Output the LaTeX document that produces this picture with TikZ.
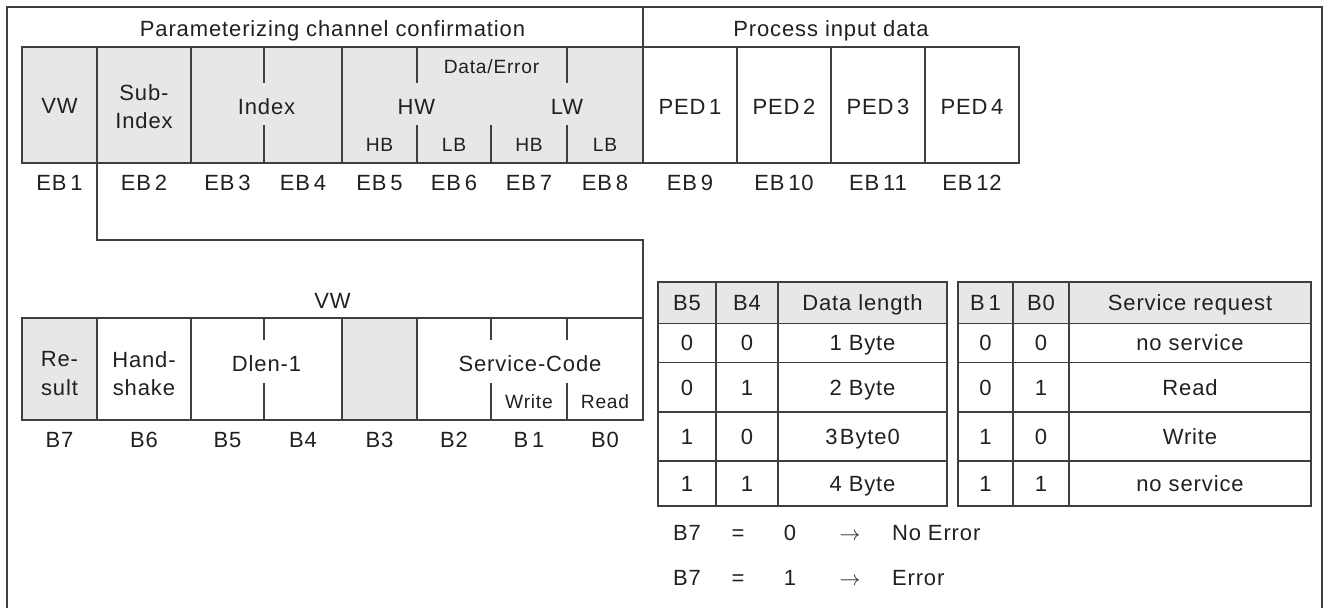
\documentclass[tikz,border=0pt]{standalone}
\usepackage{fontspec}
\setmainfont{Liberation Sans}[LetterSpace=4]
\newcommand\fnorm{\fontsize{22}{28.5}\selectfont}
\newcommand\fsmall{\fontsize{19.2}{22}\selectfont}
\definecolor{linec}{HTML}{3F3F3F}
\definecolor{cellgray}{HTML}{E6E7E8}
\definecolor{txt}{HTML}{231F20}
\tikzset{
  lbl/.style={inner sep=0pt, outer sep=0pt, font=\fnorm, text=txt, align=center},
  one/.style={lbl, text height=15.7pt, text depth=0pt},
  sm/.style={lbl, font=\fsmall, text height=13.7pt, text depth=0pt},
  ln/.style={draw=linec, line width=1.3pt},
  cb/.style 2 args={ln, rectangle, inner sep=0pt, outer sep=0pt,
     minimum width=#1pt, minimum height=#2pt},
  gcell/.style={fill=cellgray},
}
\begin{document}
\begin{tikzpicture}[x=1pt,y=-1pt]
\useasboundingbox (0,0) rectangle (1327,608);
% outer frame (open at the bottom)
\coordinate (fBL) at (7,608);
\coordinate (fTL) at (7,7);
\coordinate (fTR) at (1322,7);
\coordinate (fBR) at (1322,608);
\draw[ln, line width=1.5pt] (fBL) -- (fTL) -- (fTR) -- (fBR);

% ---------- top table ----------
\node[one] (hPar) at (332.5,28.5) {Parameterizing channel confirmation};
\node[one] (hProc) at (831,28.5) {Process input data};

\node[cb={75}{116}, gcell] (tVW) at (59.5,105) {};
\node[cb={94}{116}, gcell] (tSub) at (144,105) {};
\node[cb={151}{116}, gcell] (tIdx) at (266.5,105) {};
\node[cb={301}{116}, gcell] (tDat) at (492.5,105) {};
\node[cb={94}{116}] (tP1) at (690,105) {};
\node[cb={94}{116}] (tP2) at (784,105) {};
\node[cb={94}{116}] (tP3) at (878,105) {};
\node[cb={94}{116}] (tP4) at (972,105) {};
\coordinate (hdiv) at (643,7);
\draw[ln] (tP1.north west) -- (hdiv);

% ticks in top table
\draw[ln] (264,47) -- (264,83);
\draw[ln] (264,125) -- (264,163);
\draw[ln] (417,47) -- (417,83);
\draw[ln] (417,125) -- (417,163);
\draw[ln] (491,125) -- (491,163);
\draw[ln] (567,47) -- (567,83);
\draw[ln] (567,125) -- (567,163);

\node[one] (tVWt) at (59.5,106) {VW};
\node[lbl] (tSubt) at (144,106.5) {Sub-\\Index};
\node[one] (tIdxt) at (266.5,107) {Index};
\node[sm] (tDE) at (491.5,67) {Data/Error};
\node[one] (tHW) at (416.5,107) {HW};
\node[one] (tLW) at (567,107) {LW};
\node[sm] (tHB1) at (379.5,145) {HB};
\node[sm] (tLB1) at (454,145) {LB};
\node[sm] (tHB2) at (529,145) {HB};
\node[sm] (tLB2) at (605,145) {LB};
\node[one] (tP1t) at (690,107) {PED\,1};
\node[one] (tP2t) at (784,107) {PED\,2};
\node[one] (tP3t) at (878,107) {PED\,3};
\node[one] (tP4t) at (972,107) {PED\,4};

\foreach \nm/\xx/\tt in {eb1/59.5/EB\,1, eb2/144/EB\,2, eb3/227.5/EB\,3, eb4/303/EB\,4,
   eb5/379.5/EB\,5, eb6/454/EB\,6, eb7/529/EB\,7, eb8/605/EB\,8,
   eb9/690/EB\,9, eb10/784/EB\,10, eb11/878/EB\,11, eb12/972/EB\,12}
  {\node[one] (\nm) at (\xx,183) {\tt};}

% ---------- lower table ----------
\node[one] (lHdr) at (332.5,301) {VW};
\node[cb={75}{102}, gcell] (lRes) at (59.5,369) {};
\node[cb={94}{102}] (lHand) at (144,369) {};
\node[cb={151}{102}] (lDlen) at (266.5,369) {};
\node[cb={75}{102}, gcell] (lB3) at (379.5,369) {};
\node[cb={226}{102}] (lSvc) at (530,369) {};

% connector from VW byte to its bit layout
\coordinate (bend) at (97,240);
\draw[ln] (tVW.south east) -- (bend) -| (lSvc.north east);

\draw[ln] (264,318) -- (264,340);
\draw[ln] (264,383) -- (264,420);
\draw[ln] (491,318) -- (491,340);
\draw[ln] (491,383) -- (491,420);
\draw[ln] (567,318) -- (567,340);
\draw[ln] (567,383) -- (567,420);

\node[lbl] (lRest) at (59.5,373.5) {Re-\\sult};
\node[lbl] (lHandt) at (144,373.5) {Hand-\\shake};
\node[one] (lDlent) at (266.5,364) {Dlen-1};
\node[one] (lSvct) at (530,364) {Service-Code};
\node[sm] (lWr) at (529,402) {Write};
\node[sm] (lRd) at (605,402) {Read};

\foreach \nm/\xx/\tt in {b7/59.5/B7, b6/144/B6, b5/227.5/B5, b4/303/B4,
   b3/379.5/B3, b2/454/B2, b1/529/B\,1, b0/605/B0}
  {\node[one] (\nm) at (\xx,440) {\tt};}

% ---------- data length table ----------
\node[cb={58}{41.5}, gcell, one] (dl-0-1) at (687,302.75) {B5};
\node[cb={62}{41.5}, gcell, one] (dl-0-2) at (747,302.75) {B4};
\node[cb={169}{41.5}, gcell, one] (dl-0-3) at (862.5,302.75) {Data length};
\foreach \ri/\yc/\hh/\a/\b/\c in {1/343/39/0/0/1 Byte, 2/387.25/49.5/0/1/2 Byte,
   3/436.5/49/1/0/3\hspace{2.5pt}Byte0, 4/483.5/45/1/1/4 Byte}{
  \node[cb={58}{\hh}, one] (dl-\ri-1) at (687,\yc) {\a};
  \node[cb={62}{\hh}, one] (dl-\ri-2) at (747,\yc) {\b};
  \node[cb={169}{\hh}, one] (dl-\ri-3) at (862.5,\yc) {\c};
}

% ---------- service request table ----------
\node[cb={55}{41.5}, gcell, one] (sr-0-1) at (985.5,302.75) {B\,1};
\node[cb={56}{41.5}, gcell, one] (sr-0-2) at (1041,302.75) {B0};
\node[cb={242}{41.5}, gcell, one] (sr-0-3) at (1190,302.75) {Service request};
\foreach \ri/\yc/\hh/\a/\b/\c in {1/343/39/0/0/no service, 2/387.25/49.5/0/1/Read,
   3/436.5/49/1/0/Write, 4/483.5/45/1/1/no service}{
  \node[cb={55}{\hh}, one] (sr-\ri-1) at (985.5,\yc) {\a};
  \node[cb={56}{\hh}, one] (sr-\ri-2) at (1041,\yc) {\b};
  \node[cb={242}{\hh}, one] (sr-\ri-3) at (1190,\yc) {\c};
}

% ---------- B7 legend ----------
\node[one] (e0a) at (687,533) {B7};
\node[one] (e0b) at (738,533) {=};
\node[one] (e0c) at (790,533) {0};
\node[one] (e0d) at (850,533) {$\rightarrow$};
\node[one, anchor=west] (e0e) at (892,533) {No Error};
\node[one] (e1a) at (687,578) {B7};
\node[one] (e1b) at (738,578) {=};
\node[one] (e1c) at (790,578) {1};
\node[one] (e1d) at (850,578) {$\rightarrow$};
\node[one, anchor=west] (e1e) at (892,578) {Error};
\end{tikzpicture}
\end{document}
